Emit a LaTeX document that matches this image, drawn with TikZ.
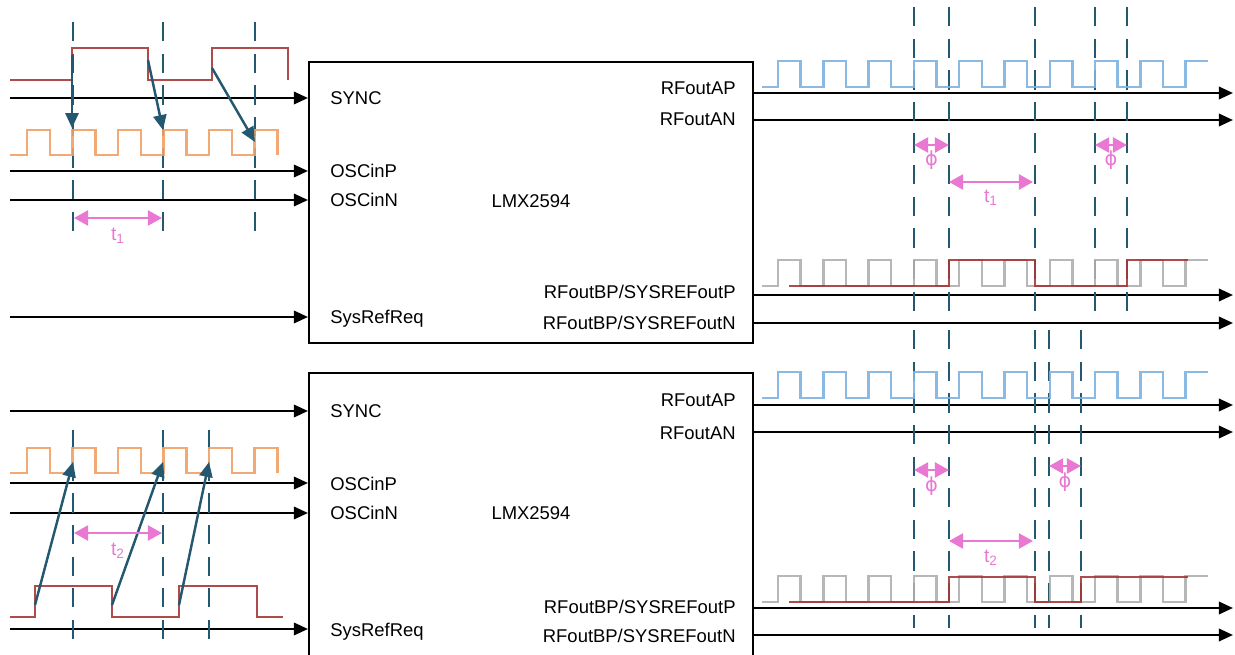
\documentclass[tikz,border=0pt]{standalone}
\usepackage{fontspec}
\setmainfont{Liberation Sans}
\newfontfamily\phifont{DejaVu Sans}
\definecolor{wavered}{RGB}{165,55,55}
\definecolor{waveorange}{RGB}{242,160,100}
\definecolor{waveblue}{RGB}{125,178,225}
\definecolor{wavegray}{RGB}{175,175,175}
\definecolor{markteal}{RGB}{36,88,112}
\definecolor{measpink}{RGB}{232,120,210}
\usetikzlibrary{arrows.meta,positioning}

\begin{document}
\begin{tikzpicture}[x=0.02cm, y=-0.02cm, font=\fontsize{10.5}{12}\selectfont,
  sig/.style={line width=1.4pt, -{Triangle[length=8pt,width=7pt]}},
  chip/.style={draw, line width=1.2pt, minimum width=8.88cm, inner sep=0pt},
  wave/.style={line width=1.4pt, opacity=0.9},
  dashline/.style={markteal, line width=1.4pt, dash pattern=on 11pt off 7pt},
  meas/.style={measpink, line width=1.4pt,
    {Triangle[length=8pt,width=8.5pt]}-{Triangle[length=8pt,width=8.5pt]}},
  cause/.style={markteal, line width=1.4pt, -{Triangle[length=8.5pt,width=7.5pt]}},
  measlbl/.style={measpink, font=\fontsize{11}{13}\selectfont, inner sep=0pt}]
  \clip (0,0) rectangle (1235,655);
  \node[chip, minimum height=5.62cm] (chipA) at (531,202.5) {};
  \node[chip, minimum height=6.4cm] (chipB) at (531,533) {};
  \node[anchor=base] (nameA) at (531,208) {LMX2594};
  \node[anchor=base] (nameB) at (531,520) {LMX2594};
  \foreach \c/\nm/\y/\lbl in {A/sync/98/SYNC, A/oscp/171/OSCinP, A/oscn/200/OSCinN,
      A/srq/317/SysRefReq, B/sync/411/SYNC, B/oscp/483/OSCinP, B/oscn/513/OSCinN,
      B/srq/629/SysRefReq}
  {
    \coordinate (\nm\c) at (10,\y);
    \draw[sig] (\nm\c) -- (\nm\c -| chip\c.west);
    \node[anchor=base west, inner sep=0pt] (l\nm\c) at (330,{\y+7}) {\lbl};
  }
  \foreach \c/\nm/\y/\b/\lbl in {A/rfap/93/95/RFoutAP, A/rfan/120/126/RFoutAN,
      A/srp/295/299/{RFoutBP/SYSREFoutP}, A/srn/323/330/{RFoutBP/SYSREFoutN},
      B/rfap/405/407/RFoutAP, B/rfan/432/439/RFoutAN,
      B/srp/608/613/{RFoutBP/SYSREFoutP}, B/srn/635/642/{RFoutBP/SYSREFoutN}}
  {
    \coordinate (\nm\c) at (1233,\y);
    \draw[sig] (\nm\c -| chip\c.east) -- (\nm\c);
    \node[anchor=base east, inner sep=0pt] (l\nm\c) at (736,\b) {\lbl};
  }
  \foreach \x in {73,163,255} \draw[dashline] (\x,22) -- (\x,235);
  \foreach \x in {914,949,1035,1095,1127} \draw[dashline] (\x,7) -- (\x,313);
  \foreach \x in {73,163,209} \draw[dashline] (\x,430) -- (\x,643);
  \foreach \x in {914,949,1035,1049,1081} \draw[dashline] (\x,330) -- (\x,628);
  \foreach \col/\yl in {waveblue/87, wavegray/286, waveblue/398, wavegray/602}
    \draw[wave, \col] (762,\yl) \foreach \k in {0,...,8} {
      -- ({778+45.3*\k},\yl) -- ++(0,-26) -- ++(22.6,0) -- ++(0,26)}
      -- (1185.7,\yl) -- ++(0,-26) -- ++(22.3,0);
  \foreach \yl in {155,473}
    \draw[wave, waveorange] (10,\yl) \foreach \k in {0,...,5} {
      -- ({27+45.5*\k},\yl) -- ++(0,-25) -- ++(23,0) -- ++(0,25)};
  \draw[wave, wavered] (10,80) -- (72,80) -- (72,48) -- (148,48) -- (148,80)
    -- (212,80) -- (212,48) -- (288,48) -- (288,80);
  \draw[wave, wavered] (10,617) -- (35,617) -- (35,586) -- (112,586) -- (112,617)
    -- (179,617) -- (179,586) -- (257,586) -- (257,617) -- (283,617);
  \draw[wave, wavered] (789,286) -- (949,286) -- (949,260) -- (1035,260)
    -- (1035,286) -- (1127,286) -- (1127,260) -- (1188,260);
  \draw[wave, wavered] (789,602) -- (949,602) -- (949,577) -- (1035,577)
    -- (1035,602) -- (1081,602) -- (1081,577) -- (1188,577);
  \foreach \i/\sx/\sy/\ex/\ey in {a1/72/55/72/128, a2/148/60/163/130,
      a3/212/68/255/142, b1/35/605/73/462, b2/112/605/163/462, b3/179/605/209/462}
  {
    \coordinate (s\i) at (\sx,\sy);
    \coordinate (e\i) at (\ex,\ey);
    \draw[cause] (s\i) -- (e\i);
  }
  \foreach \i/\xa/\xb/\y/\ly/\lbl in {ta/74/162/218/236/t\textsubscript{1},
      pa1/914/949/145/160/{\phifont ϕ}, pa2/1095/1127/145/160/{\phifont ϕ},
      ra/949/1033/182/198/t\textsubscript{1},
      tb/74/162/533/551/t\textsubscript{2},
      pb1/914/949/470/486/{\phifont ϕ}, pb2/1049/1081/466/482/{\phifont ϕ},
      rb/949/1033/541/558/t\textsubscript{2}}
  {
    \coordinate (m\i l) at (\xa,\y);
    \coordinate (m\i r) at (\xb,\y);
    \draw[meas] (m\i l) -- (m\i r);
    \node[measlbl] (lm\i) at ({(\xa+\xb)/2},\ly) {\lbl};
  }
\end{tikzpicture}
\end{document}
